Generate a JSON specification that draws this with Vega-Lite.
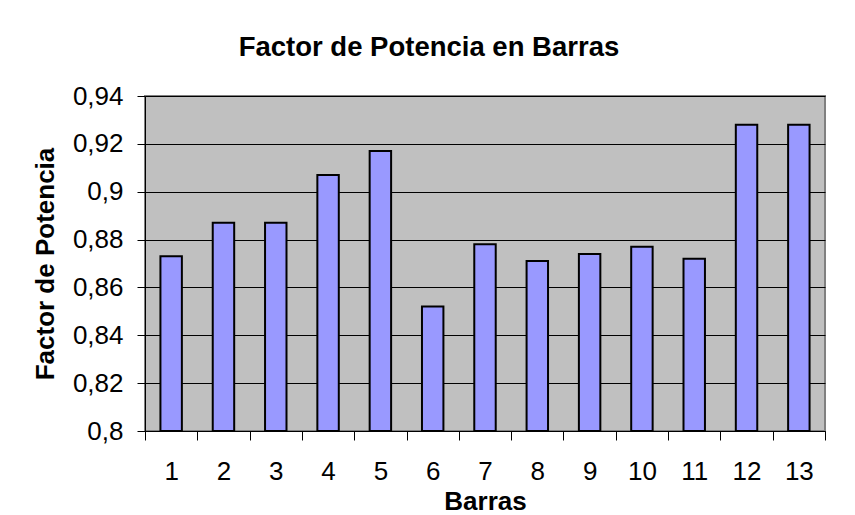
{
  "$schema": "https://vega.github.io/schema/vega-lite/v6.json",
  "width": 680,
  "height": 335,
  "autosize": {"type": "none"},
  "padding": {"left": 145, "top": 96, "right": 30, "bottom": 84},
  "background": "white",
  "title": {
    "text": "Factor de Potencia en Barras",
    "font": "Liberation Sans",
    "fontSize": 27.5,
    "fontWeight": "bold",
    "color": "black",
    "anchor": "middle",
    "frame": "bounds",
    "offset": 22
  },
  "data": {
    "values": [
      {"barra": "1", "fp": 0.873},
      {"barra": "2", "fp": 0.887},
      {"barra": "3", "fp": 0.887},
      {"barra": "4", "fp": 0.907},
      {"barra": "5", "fp": 0.917},
      {"barra": "6", "fp": 0.852},
      {"barra": "7", "fp": 0.878},
      {"barra": "8", "fp": 0.871},
      {"barra": "9", "fp": 0.874},
      {"barra": "10", "fp": 0.877},
      {"barra": "11", "fp": 0.872},
      {"barra": "12", "fp": 0.928},
      {"barra": "13", "fp": 0.928}
    ]
  },
  "mark": {"type": "bar", "fill": "#9999FF", "stroke": "black", "strokeWidth": 2, "width": {"band": 0.41}},
  "encoding": {
    "x": {
      "field": "barra",
      "type": "ordinal",
      "sort": null,
      "scale": {"paddingInner": 0, "paddingOuter": 0},
      "axis": {
        "title": "Barras",
        "labelAngle": 0,
        "tickBand": "extent",
        "tickSize": 9,
        "tickColor": "black",
        "domainColor": "black",
        "labelFont": "Liberation Sans",
        "labelFontSize": 26,
        "labelColor": "black",
        "labelPadding": 18,
        "titleFont": "Liberation Sans",
        "titleFontSize": 26,
        "titleFontWeight": "bold",
        "titleColor": "black",
        "titlePadding": 4,
        "grid": false
      }
    },
    "y": {
      "field": "fp",
      "type": "quantitative",
      "scale": {"domain": [0.8, 0.94], "zero": false, "nice": false},
      "axis": {
        "title": "Factor de Potencia",
        "values": [0.8, 0.82, 0.84, 0.86, 0.88, 0.9, 0.92, 0.94],
        "labelExpr": "replace(format(datum.value, '.2~f'), '.', ',')",
        "tickSize": 8,
        "tickColor": "black",
        "domainColor": "black",
        "labelFont": "Liberation Sans",
        "labelFontSize": 26,
        "labelColor": "black",
        "labelPadding": 14,
        "titleFont": "Liberation Sans",
        "titleFontSize": 26,
        "titleFontWeight": "bold",
        "titleColor": "black",
        "titlePadding": 14,
        "grid": true,
        "gridColor": "black",
        "gridOpacity": 1,
        "gridWidth": 1
      }
    },
    "y2": {"datum": 0.8}
  },
  "config": {
    "view": {"fill": "#C0C0C0", "stroke": "#808080", "strokeWidth": 2}
  }
}
